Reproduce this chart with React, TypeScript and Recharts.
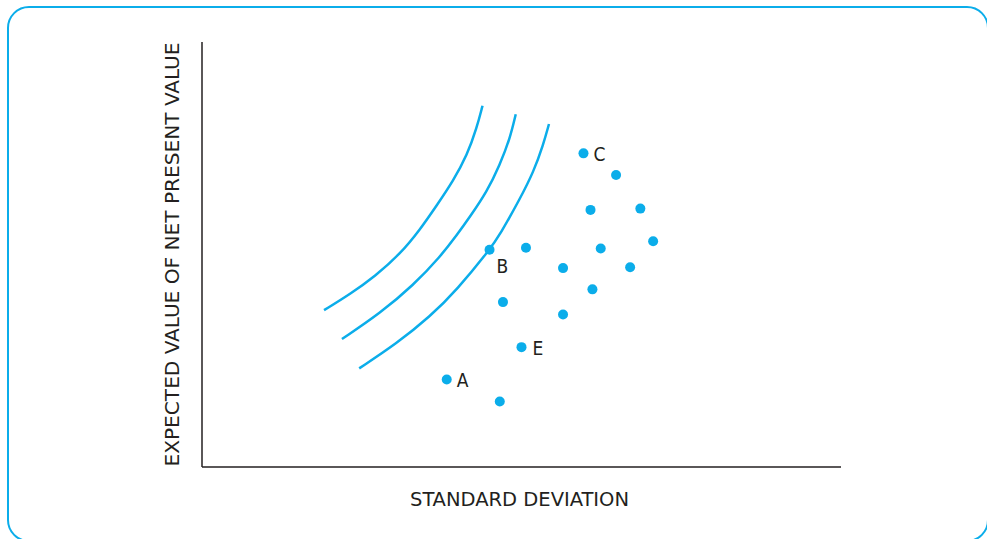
import {
  ComposedChart,
  Line,
  Scatter,
  XAxis,
  YAxis,
} from "recharts";

// risk (standard deviation) vs expected NPV, arbitrary 0..100 units
const projectX = [45.0, 50.7, 59.7, 64.8, 60.8, 68.6, 70.6, 62.4, 56.5, 67.0, 61.1, 47.1, 56.5, 50.0, 38.3, 46.6];
const projectY = [51.1, 51.6, 73.8, 68.7, 60.5, 60.8, 53.1, 51.4, 46.8, 47.0, 41.8, 38.8, 35.9, 28.2, 20.6, 15.4];
const projectLabels = ["B", "", "C", "", "", "", "", "", "", "", "", "", "", "E", "A", ""];

// three indifference curves
const curve1X = [19.1, 23.2, 27.1, 31.0, 34.1, 36.8, 39.3, 41.5, 43.0, 43.9];
const curve1Y = [36.9, 40.7, 44.9, 50.1, 55.8, 61.7, 67.3, 73.4, 79.8, 85.0];
const curve2X = [21.9, 27.9, 33.1, 37.3, 39.9, 41.9, 44.6, 46.6, 48.2, 49.1];
const curve2Y = [30.1, 36.2, 42.8, 49.5, 54.6, 58.8, 64.8, 71.1, 77.3, 83.0];
const curve3X = [24.6, 30.5, 35.7, 39.9, 45.0, 46.6, 49.8, 51.9, 53.4, 54.3];
const curve3Y = [23.2, 29.1, 35.4, 41.7, 51.1, 54.6, 63.2, 69.5, 75.8, 80.7];

const xTitle = "STANDARD DEVIATION";
const yTitle = "EXPECTED VALUE OF NET PRESENT VALUE";

const BLUE = "#0badea";
const INK = "#231f20";
const FONT = "'Liberation Sans Narrow', 'DejaVu Sans Condensed', 'Liberation Sans', Arial, sans-serif";

const zip = (xs: number[], ys: number[]) => xs.map((x, i) => ({ x, y: ys[i] }));

const points = projectX.map((x, i) => ({ x, y: projectY[i], label: projectLabels[i] }));
const curves = [zip(curve1X, curve1Y), zip(curve2X, curve2Y), zip(curve3X, curve3Y)];

// label offsets next to the dot
const labelOffset: Record<string, [number, number]> = {
  A: [10, 1],
  B: [7, 16],
  C: [10, 1],
  E: [11, 1],
};

function Dot(props: any) {
  const { cx, cy, payload } = props;
  const lab = payload?.label;
  const off = lab ? labelOffset[lab] : null;
  return (
    <g>
      <circle cx={cx} cy={cy} r={5} fill={BLUE} />
      {lab && off ? (
        <text
          x={cx + off[0]}
          y={cy + off[1]}
          fill={INK}
          fontSize={19}
          fontFamily={FONT}
          dominantBaseline="central"
        >
          {lab}
        </text>
      ) : null}
    </g>
  );
}

export default function App() {
  return (
    <div
      style={{
        position: "fixed",
        left: 0,
        top: 0,
        width: 987,
        height: 539,
        overflow: "hidden",
        background: "#fff",
      }}
    >
      <div
        style={{
          position: "absolute",
          left: 7,
          top: 6,
          width: 982,
          height: 536,
          boxSizing: "border-box",
          border: `2.5px solid ${BLUE}`,
          borderRadius: 22,
        }}
      />
      <div style={{ position: "absolute", left: 0, top: 0 }}>
        <ComposedChart
          width={987}
          height={539}
          margin={{ top: 42, right: 146, bottom: 32, left: 142 }}
        >
          <XAxis
            type="number"
            dataKey="x"
            domain={[0, 100]}
            allowDataOverflow
            height={40}
            tick={false}
            tickLine={false}
            axisLine={{ stroke: INK, strokeWidth: 1.5 }}
            label={{
              content: (p: any) => {
                const vb = p.viewBox || {};
                return (
                  <text
                    x={vb.x + vb.width / 2 - 2}
                    y={vb.y + 32}
                    textAnchor="middle"
                    dominantBaseline="central"
                    fill={INK}
                    fontSize={20}
                    fontFamily={FONT}
                    textLength={219}
                    lengthAdjust="spacingAndGlyphs"
                  >
                    {xTitle}
                  </text>
                );
              },
            }}
          />
          <YAxis
            type="number"
            dataKey="y"
            domain={[0, 100]}
            allowDataOverflow
            width={60}
            tick={false}
            tickLine={false}
            axisLine={{ stroke: INK, strokeWidth: 1.5 }}
            label={{
              content: (p: any) => {
                const vb = p.viewBox || {};
                const cx = vb.x + 30;
                const cy = vb.y + vb.height / 2;
                return (
                  <text
                    x={cx}
                    y={cy}
                    transform={`rotate(-90 ${cx} ${cy})`}
                    textAnchor="middle"
                    dominantBaseline="central"
                    fill={INK}
                    fontSize={20}
                    fontFamily={FONT}
                    textLength={424}
                    lengthAdjust="spacingAndGlyphs"
                  >
                    {yTitle}
                  </text>
                );
              },
            }}
          />
          {curves.map((c, i) => (
            <Line
              key={i}
              data={c}
              dataKey="y"
              type="basis"
              stroke={BLUE}
              strokeWidth={2.5}
              dot={false}
              activeDot={false}
              isAnimationActive={false}
            />
          ))}
          <Scatter
            data={points}
            dataKey="y"
            shape={Dot}
            isAnimationActive={false}
          />
        </ComposedChart>
      </div>
    </div>
  );
}
